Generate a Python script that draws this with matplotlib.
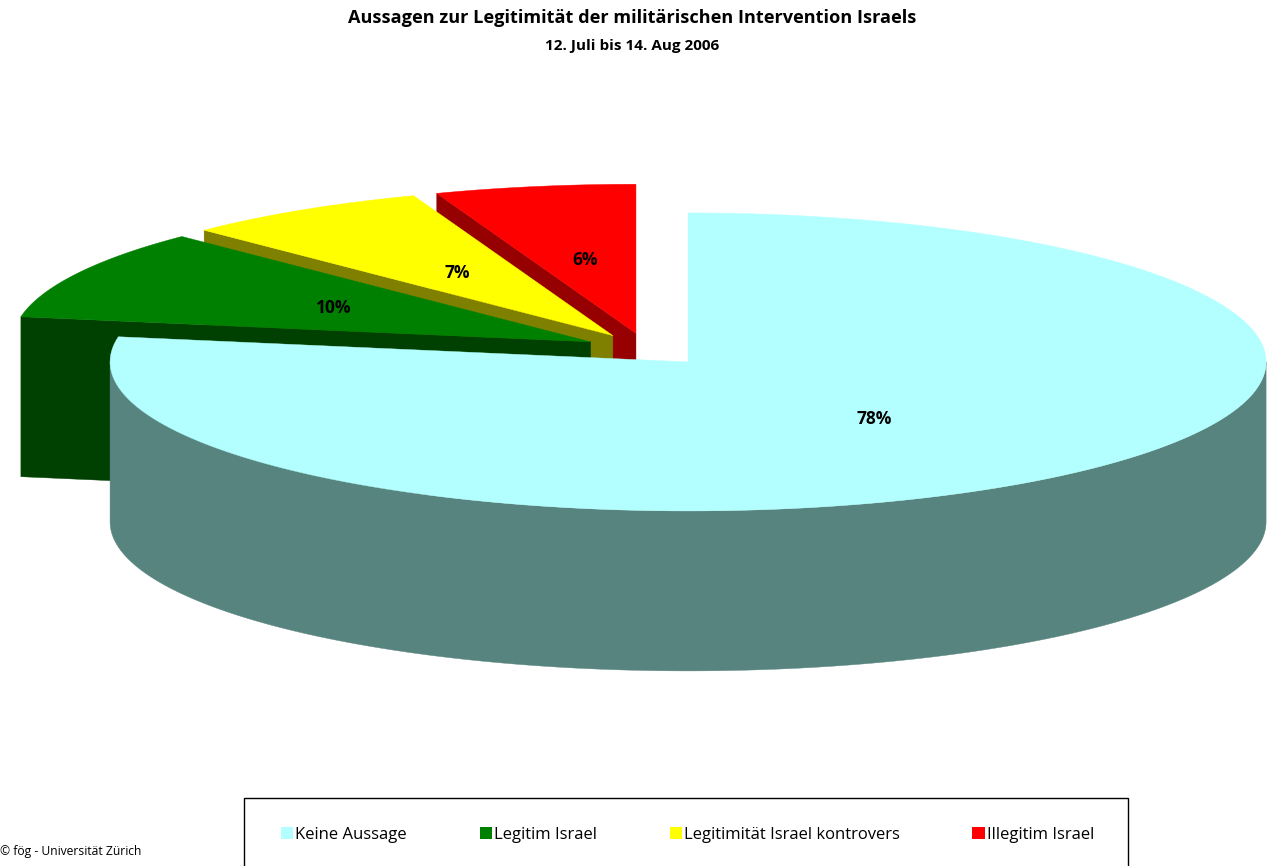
import numpy as np
import matplotlib
matplotlib.use('Agg')
import matplotlib.pyplot as plt
from matplotlib.patches import Polygon, Rectangle, Patch

# ---- data ----
categories = ['Keine Aussage', 'Legitim Israel', 'Legitimität Israel kontrovers', 'Illegitim Israel']
values = [77.7, 9.8, 6.9, 5.6]
pct_labels = ['78%', '10%', '7%', '6%']
title = 'Aussagen zur Legitimität der militärischen Intervention Israels'
subtitle = '12. Juli bis 14. Aug 2006'
credit = '© fög - Universität Zürich'

# ---- style ----
top_colors = ['#B3FFFF', '#008000', '#FFFF00', '#FF0000']
side_colors = ['#588480', '#004000', '#808000', '#960000']
TILT = 0.2578      # vertical squash of the ellipse
DEPTH = 0.2768     # thickness of the pie
EXPLODE = 0.11
LABEL_R = 0.5
FONT = 'Open Sans'

plt.rcParams['font.family'] = [FONT, 'DejaVu Sans']

fig = plt.figure(figsize=(12.74, 8.66), dpi=100)
ax = fig.add_axes([0, 0, 1, 1])
ax.set_xlim(-1.1195, 1.0846)
ax.set_ylim(-0.8938, 0.6045)
ax.axis('off')

vals = np.array(values, dtype=float)
fr = vals / vals.sum()
ends = np.cumsum(fr) * 2 * np.pi
starts = ends - fr * 2 * np.pi


def pt(cx, cy, t, r=1.0, z=0.0):
    return (cx + r * np.sin(t), cy + r * np.cos(t) * TILT - z * DEPTH)


slices = []
for i in range(len(vals)):
    a0, a1 = starts[i], ends[i]
    mid = 0.5 * (a0 + a1)
    cx = EXPLODE * np.sin(mid)
    cy = EXPLODE * np.cos(mid) * TILT
    slices.append((i, a0, a1, mid, cx, cy))

# back-to-front ordering by apex height
order = sorted(slices, key=lambda s: -s[5])
z = 1
for (i, a0, a1, mid, cx, cy) in order:
    # radial faces
    for t, visible in ((a0, np.sin(a0) < -1e-6), (a1, np.sin(a1) > 1e-6)):
        if visible:
            quad = [pt(cx, cy, t, 0), pt(cx, cy, t, 1), pt(cx, cy, t, 1, 1), pt(cx, cy, t, 0, 1)]
            ax.add_patch(Polygon(quad, closed=True, facecolor=side_colors[i],
                                 edgecolor=side_colors[i], lw=0.3, zorder=z))
            z += 1
    # outer curved side (front half only)
    lo = max(a0, np.pi / 2)
    hi = min(a1, 3 * np.pi / 2)
    if hi > lo:
        ts = np.linspace(lo, hi, 200)
        topa = [pt(cx, cy, t) for t in ts]
        bota = [pt(cx, cy, t, 1, 1) for t in ts[::-1]]
        ax.add_patch(Polygon(topa + bota, closed=True, facecolor=side_colors[i],
                             edgecolor=side_colors[i], lw=0.3, zorder=z))
        z += 1
    # top face
    ts = np.linspace(a0, a1, 300)
    poly = [(cx, cy)] + [pt(cx, cy, t) for t in ts]
    ax.add_patch(Polygon(poly, closed=True, facecolor=top_colors[i],
                         edgecolor=top_colors[i], lw=0.3, zorder=z))
    z += 1

for (i, a0, a1, mid, cx, cy) in slices:
    lx, ly = pt(cx, cy, mid, LABEL_R)
    ax.text(lx, ly, pct_labels[i], ha='center', va='center', fontsize=12.5,
            fontweight='bold', color='black', zorder=100)

fig.text(0.496, 1 - 18 / 866, title, ha='center', va='center', fontsize=13.1, fontweight='bold')
fig.text(0.496, 1 - 46 / 866, subtitle, ha='center', va='center', fontsize=11, fontweight='bold')
fig.text(0.0, 1 - 852 / 866, credit, ha='left', va='center', fontsize=8.7)

# legend box
fig.patches.append(Rectangle((244 / 1274, -0.02), (1128 - 244) / 1274, (866 - 798) / 866 + 0.02,
                             transform=fig.transFigure, facecolor='white', edgecolor='black',
                             lw=1.0, zorder=0))
handles = [Patch(facecolor=c, edgecolor='none') for c in top_colors]
fig.legend(handles, categories, loc='center', bbox_to_anchor=(0.5397, 1 - 835 / 866), ncol=4,
           frameon=False, fontsize=12, handlelength=0.75, handleheight=0.75,
           handletextpad=0.12, columnspacing=4.35)

fig.savefig('out.png', dpi=100)
